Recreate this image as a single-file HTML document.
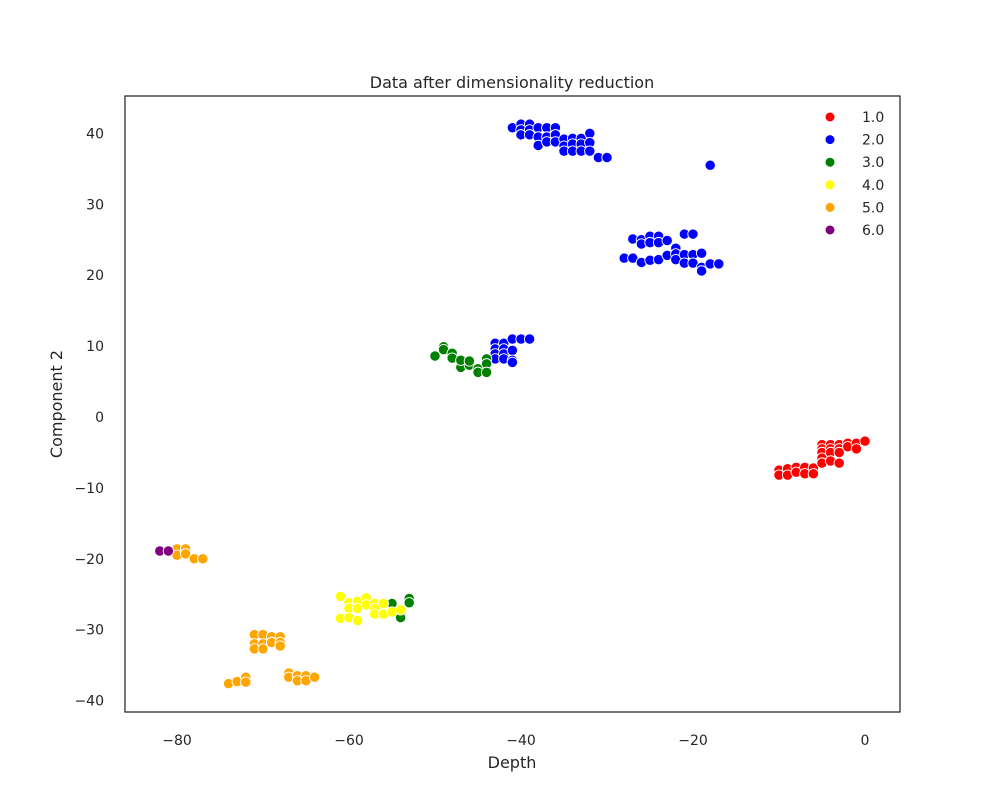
<!DOCTYPE html>
<html><head><meta charset="utf-8"><style>
body{margin:0;background:#fff;}
svg text{font-family:"DejaVu Sans","Liberation Sans",sans-serif;fill:#262626;}
</style></head><body>
<svg id="chart" width="1000" height="800" xmlns="http://www.w3.org/2000/svg">
<rect width="1000" height="800" fill="#fff"/>
<text x="512" y="88" font-size="16" text-anchor="middle">Data after dimensionality reduction</text>
<g id="points"></g>
<rect x="125" y="96" width="775" height="616" fill="none" stroke="#262626" stroke-width="1.25"/>
<g id="xt"></g>
<g id="yt"></g>
<text x="512" y="768" font-size="16" text-anchor="middle">Depth</text>
<text x="62" y="404" font-size="16" text-anchor="middle" transform="rotate(-90 62 404)">Component 2</text>
<g id="legend"></g>
</svg>
<script>
const classLabels = ["1.0","2.0","3.0","4.0","5.0","6.0"];
const classColors = ["red","blue","green","yellow","orange","purple"];
const xTicks = [-80,-60,-40,-20,0];
const yTicks = [-40,-30,-20,-10,0,10,20,30,40];
// [x, y] per class
const class1 = [[-10,-7.5],[-10,-8.2],[-9,-7.3],[-9,-8.2],[-8,-7.1],[-8,-7.8],[-7,-7.1],[-7,-8.0],[-6,-7.2],[-6,-8.0],
 [-5,-3.9],[-5,-4.5],[-5,-5.0],[-5,-5.8],[-5,-6.5],[-4,-3.9],[-4,-4.5],[-4,-5.0],[-4,-6.2],[-3,-3.9],[-3,-4.5],[-3,-5.0],[-3,-6.5],
 [-2,-3.7],[-2,-4.2],[-1,-3.7],[-1,-4.5],[0,-3.4]];
const class2 = [[-41,40.8],[-40,41.3],[-40,40.5],[-40,39.8],[-39,41.3],[-39,40.5],[-39,39.8],[-38,40.8],[-38,39.5],[-38,38.3],
 [-37,40.8],[-37,39.5],[-37,38.8],[-36,40.8],[-36,39.8],[-36,38.8],[-35,39.2],[-35,38.2],[-35,37.5],[-34,39.3],[-34,38.5],[-34,37.5],
 [-33,39.3],[-33,38.5],[-33,37.5],[-32,40.0],[-32,38.7],[-32,37.5],[-31,36.6],[-30,36.6],[-18,35.5],
 [-28,22.4],[-27,25.1],[-27,22.4],[-26,25.0],[-26,24.4],[-26,21.8],[-25,25.5],[-25,24.6],[-25,22.1],[-24,25.5],[-24,24.6],[-24,22.2],
 [-23,24.9],[-23,22.8],[-22,23.8],[-22,23.0],[-22,22.2],[-21,25.8],[-21,22.9],[-21,21.7],[-20,25.8],[-20,22.9],[-20,21.7],
 [-19,23.1],[-19,21.1],[-19,20.6],[-18,21.6],[-17,21.6],
 [-43,10.4],[-43,9.6],[-43,8.9],[-43,8.2],[-42,10.4],[-42,9.6],[-42,8.9],[-42,8.2],[-41,11.0],[-41,9.4],[-41,8.0],[-41,7.7],[-40,11.0],[-39,11.0]];
const class3 = [[-50,8.6],[-49,9.9],[-49,9.5],[-48,9.0],[-48,8.3],[-47,7.5],[-47,7.0],[-47,8.0],[-46,7.3],[-46,7.9],[-45,6.8],[-45,6.3],
 [-44,8.2],[-44,7.5],[-44,6.3],[-55,-26.3],[-54,-27.8],[-54,-28.3],[-53,-25.6],[-53,-26.2]];
const class4 = [[-61,-25.3],[-61,-28.4],[-60,-26.2],[-60,-27.0],[-60,-28.3],[-59,-26.0],[-59,-27.0],[-59,-28.7],[-58,-25.5],[-58,-26.5],
 [-57,-26.3],[-57,-27.0],[-57,-27.8],[-56,-26.3],[-56,-27.8],[-55,-27.5],[-54,-27.2]];
const class5 = [[-80,-18.6],[-80,-19.5],[-79,-18.6],[-79,-19.3],[-78,-20.0],[-77,-20.0],
 [-71,-30.7],[-71,-32.0],[-71,-32.7],[-70,-30.7],[-70,-32.0],[-70,-32.7],[-69,-31.0],[-69,-31.8],[-68,-31.0],[-68,-31.8],[-68,-32.3],
 [-74,-37.6],[-73,-37.3],[-72,-36.7],[-72,-37.4],[-67,-36.1],[-67,-36.7],[-66,-36.5],[-66,-37.2],[-65,-36.5],[-65,-37.2],[-64,-36.7]];
const class6 = [[-82,-18.9],[-81,-18.9]];
const allClasses = [class1,class2,class3,class4,class5,class6];

const NS="http://www.w3.org/2000/svg";
const xS = v => 865 + v*8.6;
const yS = v => 417 - v*7.09;
function mk(tag, parent){const e=document.createElementNS(NS,tag);parent.appendChild(e);return e;}

const pg=document.getElementById('points');
allClasses.forEach((pts,ci)=>{
  pts.forEach(p=>{
    const c=mk('circle',pg);
    
    
    c.setAttribute('cx',xS(p[0]));c.setAttribute('cy',yS(p[1]));c.setAttribute('r',5.2);
    c.setAttribute('fill',classColors[ci]);c.setAttribute('stroke','#fff');c.setAttribute('stroke-width',0.9);
  });
});
const xg=document.getElementById('xt');
xTicks.forEach(t=>{
  const tx=mk('text',xg);
  
  
  tx.setAttribute('x',xS(t));tx.setAttribute('y',745);tx.setAttribute('font-size','14');tx.setAttribute('text-anchor','middle');
  tx.textContent=(t<0?'\u2212'+(-t):t);
});
const yg=document.getElementById('yt');
yTicks.forEach(t=>{
  const tx=mk('text',yg);
  
  
  tx.setAttribute('x',104);tx.setAttribute('y',yS(t)+5);tx.setAttribute('font-size','14');tx.setAttribute('text-anchor','end');
  tx.textContent=(t<0?'\u2212'+(-t):t);
});
const lg=document.getElementById('legend');
classLabels.forEach((l,i)=>{
  const y=117+i*22.6;
  const c=mk('circle',lg);
  
  
  c.setAttribute('cx',830);c.setAttribute('cy',y);c.setAttribute('r',4.5);c.setAttribute('fill',classColors[i]);
  const t=mk('text',lg);
  
  
  t.setAttribute('x',862);t.setAttribute('y',y+5);t.setAttribute('font-size','14');
  t.textContent=l;
});
</script>
</body></html>
